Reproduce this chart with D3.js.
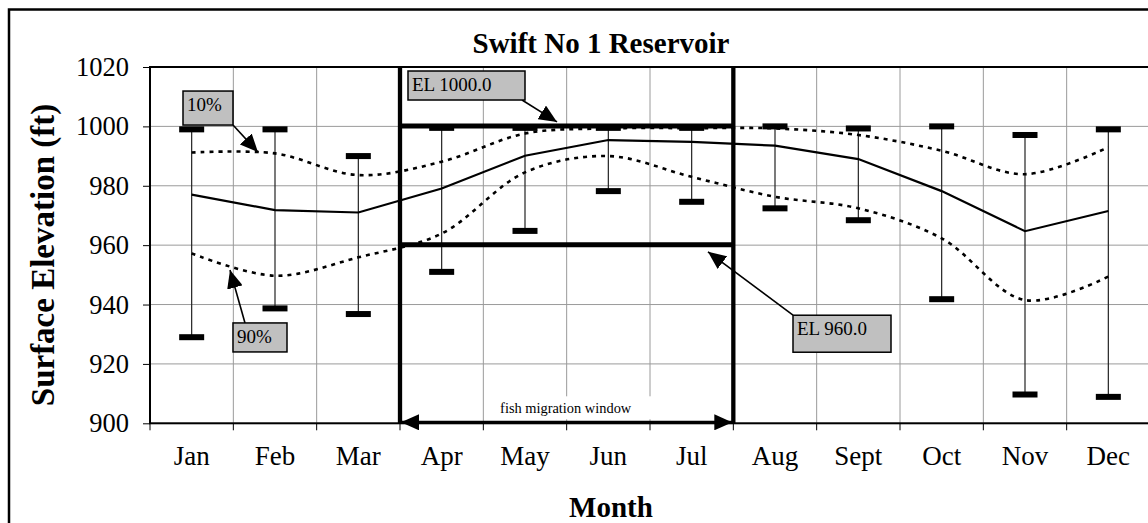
<!DOCTYPE html>
<html>
<head>
<meta charset="utf-8">
<script src="https://cdn.jsdelivr.net/npm/d3@7"></script>
<style>
  html, body { margin: 0; padding: 0; background: #fff; }
  svg { display: block; }
  svg text { font-family: "Liberation Serif", "Times New Roman", serif; }
</style>
</head>
<body>
<svg id="chart" width="1148" height="523"></svg>
<script>
// Monthly surface elevation statistics (ft)
const months = ['Jan', 'Feb', 'Mar', 'Apr', 'May', 'Jun', 'Jul', 'Aug', 'Sept', 'Oct', 'Nov', 'Dec'];
const maxElev = [999, 999, 990, 999.5, 999.5, 999.5, 999.5, 1000, 999.3, 1000, 997.1, 999];
const minElev = [929, 938.7, 936.8, 951, 964.8, 978.2, 974.6, 972.4, 968.4, 941.8, 909.7, 908.9];
const median = [977, 971.8, 971, 979.1, 990.1, 995.4, 994.8, 993.5, 989, 978.2, 964.7, 971.5];
const pct10 = [991.2, 990.9, 983.6, 988.1, 997.6, 999.3, 999.4, 999.3, 997.1, 991.8, 983.9, 993];
const pct90 = [957.2, 949.7, 955.9, 963.9, 984.5, 990, 983, 976.3, 972.4, 962.3, 941.5, 949.4];

const yTicks = [900, 920, 940, 960, 980, 1000, 1020];

// fish migration window (Apr - Jul) and elevation limits
const windowMonths = ['Apr', 'Jul'];
const elevLimits = [1000, 960];

// callouts: box corner and arrow tip in (month index, elevation)
const callouts = [
  { text: '10%', box: [-0.104, 1011.9], w: 50, h: 34, tail: [50, 34], tip: [0.796, 991.3] },
  { text: '90%', box: [0.496, 933.8], w: 54, h: 29, tail: [12, 0], tip: [0.46, 951.6] },
  { text: 'EL 1000.0', box: [2.596, 1018.65], w: 117, h: 29, tail: [114, 29], tip: [4.384, 1001.5] },
  { text: 'EL 960.0', box: [7.216, 936.4], w: 98, h: 37, tail: [0, 0], tip: [6.196, 957.75] }
];

const FONT = '"Liberation Serif", "Times New Roman", serif';
const svg = d3.select('#chart');
const margin = { left: 150, top: 67, right: 1150, bottom: 423.3 };

const x = d3.scaleBand().domain(months).range([margin.left, margin.right]).padding(0);
const xi = d3.scaleLinear().domain([-0.5, months.length - 0.5]).range([margin.left, margin.right]);
const y = d3.scaleLinear().domain([900, 1020]).range([margin.bottom, margin.top]);
const cx = m => x(m) + x.bandwidth() / 2;

// outer chart frame
svg.append('rect')
  .attr('x', 9).attr('y', 9.5).attr('width', 1300).attr('height', 700)
  .attr('fill', 'none').attr('stroke', '#000').attr('stroke-width', 2.5);

// arrow marker
const defs = svg.append('defs');
defs.append('marker')
  .attr('id', 'head').attr('markerUnits', 'userSpaceOnUse')
  .attr('viewBox', '0 0 18 16').attr('refX', 18).attr('refY', 8)
  .attr('markerWidth', 18).attr('markerHeight', 16).attr('orient', 'auto-start-reverse')
  .append('path').attr('d', 'M0,0 L18,8 L0,16 Z').attr('fill', '#000');

// Grid
const grid = svg.append('g');
grid.selectAll('line.h').data(yTicks).join('line')
  .attr('x1', margin.left).attr('x2', margin.right)
  .attr('y1', d => y(d)).attr('y2', d => y(d))
  .attr('stroke', '#9a9a9a').attr('stroke-width', 1);
grid.selectAll('line.v').data(months.slice(1)).join('line')
  .attr('x1', d => x(d)).attr('x2', d => x(d))
  .attr('y1', margin.top).attr('y2', margin.bottom)
  .attr('stroke', '#9a9a9a').attr('stroke-width', 1);

// Axes
svg.append('g').attr('transform', `translate(${margin.left},0)`)
  .call(d3.axisLeft(y).tickValues(yTicks).tickSize(7).tickPadding(14).tickFormat(d3.format('d')))
  .call(ax => ax.select('.domain').remove())
  .call(ax => ax.selectAll('line').attr('stroke', '#000'))
  .call(ax => ax.selectAll('text').attr('fill', '#000').attr('font-size', 26.5)
    .attr('font-family', FONT));

const xb = svg.append('g').attr('transform', `translate(0,${margin.bottom})`);
xb.selectAll('line').data(months.concat(['end'])).join('line')
  .attr('x1', (d, i) => xi(i - 0.5)).attr('x2', (d, i) => xi(i - 0.5))
  .attr('y1', 0).attr('y2', 7).attr('stroke', '#000');
xb.selectAll('text').data(months).join('text')
  .attr('x', d => cx(d)).attr('y', 42).attr('font-family', FONT)
  .attr('text-anchor', 'middle').attr('font-size', 27).text(d => d);

// fish migration window
const wx0 = x(windowMonths[0]);
const wx1 = x(windowMonths[1]) + x.bandwidth();

// plot frame
svg.append('rect')
  .attr('x', margin.left).attr('y', margin.top)
  .attr('width', margin.right - margin.left).attr('height', margin.bottom - margin.top)
  .attr('fill', 'none').attr('stroke', '#000').attr('stroke-width', 2);

// range whiskers
svg.append('g').selectAll('line').data(months).join('line')
  .attr('x1', d => cx(d)).attr('x2', d => cx(d))
  .attr('y1', (d, i) => y(maxElev[i])).attr('y2', (d, i) => y(minElev[i]))
  .attr('stroke', '#222').attr('stroke-width', 1.2);

const caps = svg.append('g');
[maxElev, minElev].forEach(vals => {
  caps.append('g').selectAll('rect').data(months).join('rect')
    .attr('x', d => cx(d) - 12.5).attr('y', (d, i) => y(vals[i]) - 3)
    .attr('width', 25).attr('height', 6).attr('fill', '#000');
});

// percentile curves
const smooth = d3.line().x((d, i) => cx(months[i])).y(d => y(d)).curve(d3.curveCatmullRom.alpha(0.5));
[pct10, pct90].forEach(vals => {
  svg.append('path').attr('d', smooth(vals))
    .attr('fill', 'none').attr('stroke', '#000').attr('stroke-width', 2.6)
    .attr('stroke-dasharray', '4,5');
});

// median
svg.append('path')
  .attr('d', d3.line().x((d, i) => cx(months[i])).y(d => y(d))(median))
  .attr('fill', 'none').attr('stroke', '#000').attr('stroke-width', 2.2);

// window borders & elevation limits
svg.append('g').selectAll('line').data([wx0, wx1]).join('line')
  .attr('x1', d => d).attr('x2', d => d)
  .attr('y1', margin.top).attr('y2', margin.bottom)
  .attr('stroke', '#000').attr('stroke-width', 4.3);
svg.append('g').selectAll('line').data(elevLimits).join('line')
  .attr('x1', wx0).attr('x2', wx1)
  .attr('y1', d => y(d) - 0.5).attr('y2', d => y(d) - 0.5)
  .attr('stroke', '#000').attr('stroke-width', 5);

// window double arrow + label
svg.append('line')
  .attr('x1', wx0 + 1).attr('x2', wx1 - 1)
  .attr('y1', margin.bottom - 1).attr('y2', margin.bottom - 1)
  .attr('stroke', '#000').attr('stroke-width', 3)
  .attr('marker-start', 'url(#head)').attr('marker-end', 'url(#head)');
const wmid = (wx0 + wx1) / 2;
svg.append('rect')
  .attr('x', wmid - 70).attr('y', margin.bottom - 27).attr('width', 155).attr('height', 23)
  .attr('fill', '#fff');
svg.append('text')
  .attr('x', wmid - 1).attr('y', margin.bottom - 10).attr('font-family', FONT)
  .attr('text-anchor', 'middle').attr('font-size', 14.4).text('fish migration window');

// callouts
callouts.forEach(c => {
  const bx = xi(c.box[0]), by = y(c.box[1]);
  svg.append('line')
    .attr('x1', bx + c.tail[0]).attr('y1', by + c.tail[1])
    .attr('x2', xi(c.tip[0])).attr('y2', y(c.tip[1]))
    .attr('stroke', '#000').attr('stroke-width', 1.6)
    .attr('marker-end', 'url(#head)');
  svg.append('rect')
    .attr('x', bx).attr('y', by).attr('width', c.w).attr('height', c.h)
    .attr('fill', '#c0c0c0').attr('stroke', '#000').attr('stroke-width', 1.5);
  svg.append('text')
    .attr('x', bx + 4).attr('y', by + 20).attr('font-family', FONT)
    .attr('font-size', 19).text(c.text);
});

// titles
svg.append('text')
  .attr('x', 601).attr('y', 53).attr('text-anchor', 'middle').attr('font-family', FONT)
  .attr('font-size', 29).attr('font-weight', 'bold').text('Swift No 1 Reservoir');
svg.append('text')
  .attr('x', 611).attr('y', 517).attr('text-anchor', 'middle').attr('font-family', FONT)
  .attr('font-size', 29).attr('font-weight', 'bold').text('Month');
svg.append('text')
  .attr('transform', 'translate(54,255) rotate(-90)').attr('text-anchor', 'middle')
  .attr('font-family', FONT)
  .attr('font-size', 33).attr('font-weight', 'bold').text('Surface Elevation (ft)');
</script>
</body>
</html>
